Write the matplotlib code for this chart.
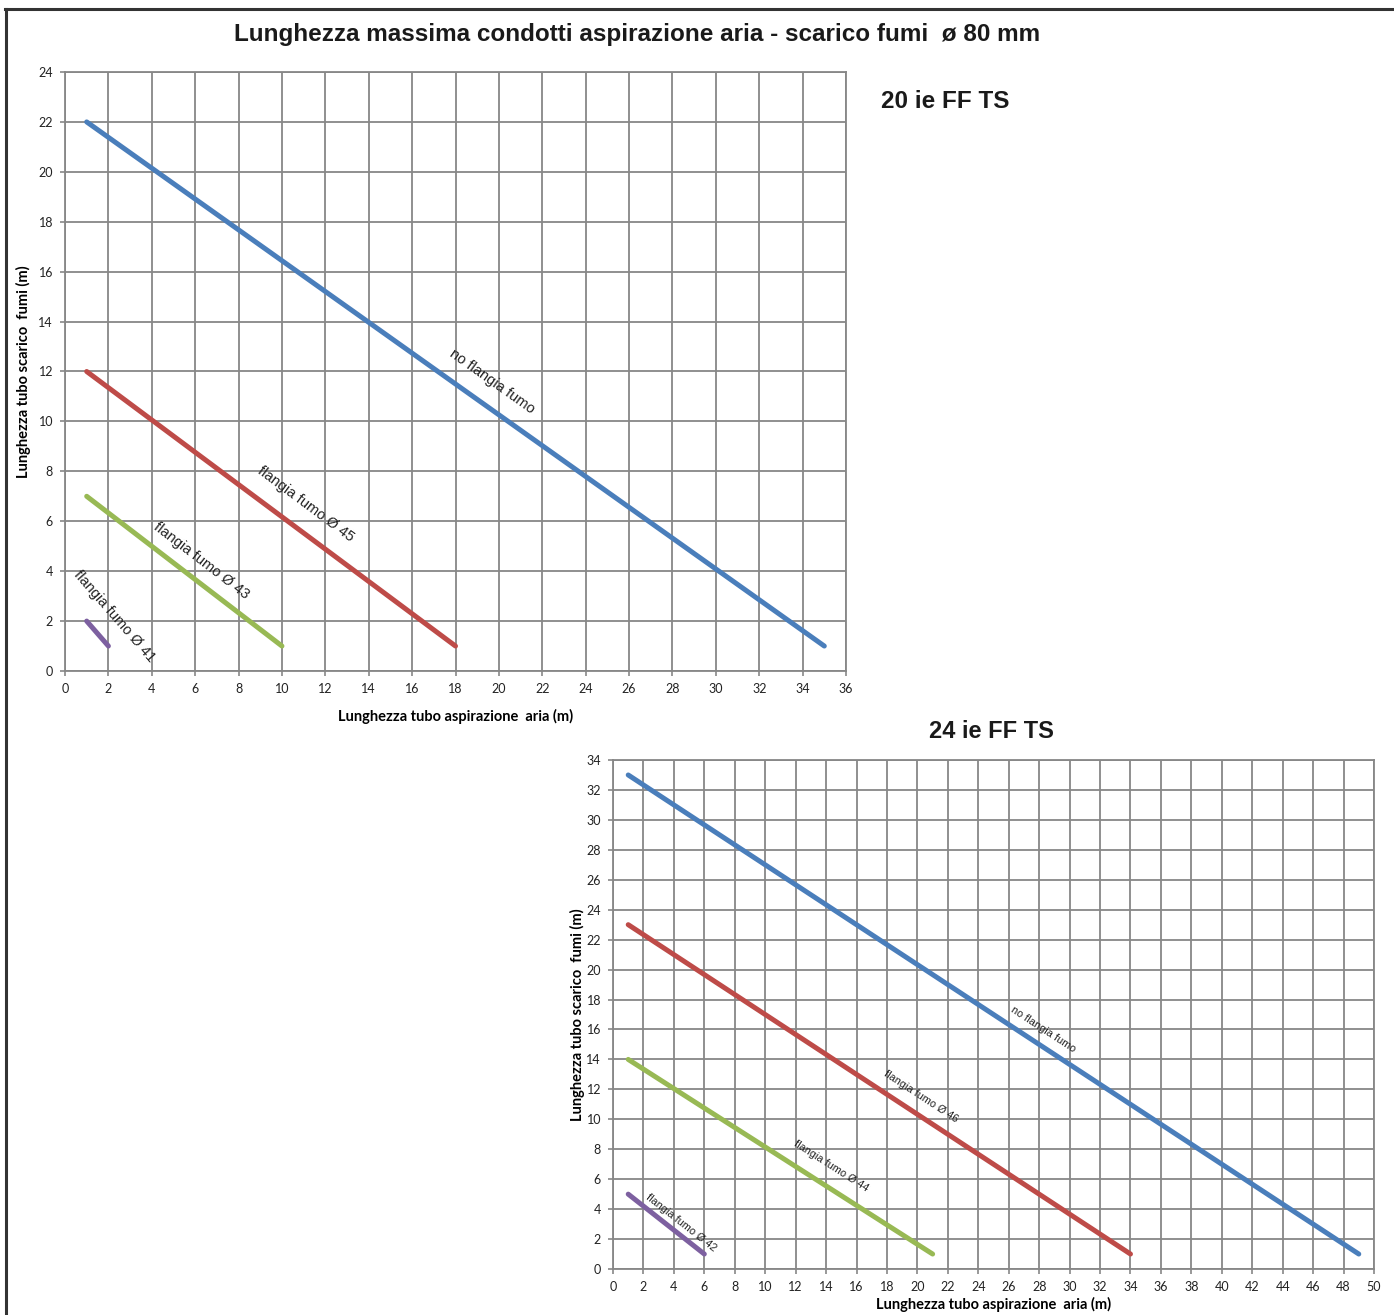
import numpy as np
import matplotlib
matplotlib.use("Agg")
import matplotlib.pyplot as plt
from matplotlib.lines import Line2D

# ---- data ----
# 20 ie FF TS
top_series_names = ["no flangia fumo", "flangia fumo Ø 45", "flangia fumo Ø 43", "flangia fumo Ø 41"]
top_x = [[1, 35], [1, 18], [1, 10], [1, 2]]
top_y = [[22, 1], [12, 1], [7, 1], [2, 1]]
top_xticks = list(range(0, 37, 2))
top_yticks = list(range(0, 25, 2))

# 24 ie FF TS
bot_series_names = ["no flangia fumo", "flangia fumo Ø 46", "flangia fumo Ø 44", "flangia fumo Ø 42"]
bot_x = [[1, 49], [1, 34], [1, 21], [1, 6]]
bot_y = [[33, 1], [23, 1], [14, 1], [5, 1]]
bot_xticks = list(range(0, 51, 2))
bot_yticks = list(range(0, 35, 2))

title = "Lunghezza massima condotti aspirazione aria - scarico fumi  ø 80 mm"
top_title = "20 ie FF TS"
bot_title = "24 ie FF TS"
xlabel = "Lunghezza tubo aspirazione  aria (m)"
ylabel = "Lunghezza tubo scarico  fumi (m)"

# label anchor positions (data coords) - placement only
top_label_pos = [(19.7, 11.6), (11.1, 6.7), (6.3, 4.4), (2.3, 2.2)]
bot_label_pos = [(28.25, 16.0), (20.2, 11.5), (14.3, 6.9), (4.5, 3.1)]

colors = ["#4A7EBB", "#BE4B48", "#98B954", "#7D60A0"]
grid_col = "#878787"

W, H = 1394, 1315
fig = plt.figure(figsize=(W / 100, H / 100), dpi=100)
fig.patch.set_facecolor("white")


def px_axes(x0, x1, y0, y1):
    return fig.add_axes([x0 / W, 1 - y1 / H, (x1 - x0) / W, (y1 - y0) / H])


def style_axes(ax, xticks, yticks, xmax, ymax):
    ax.set_xlim(0, xmax)
    ax.set_ylim(0, ymax)
    ax.set_xticks(xticks)
    ax.set_yticks(yticks)
    ax.grid(True, color=grid_col, linewidth=1.3)
    ax.set_axisbelow(True)
    for s in ax.spines.values():
        s.set_color(grid_col)
        s.set_linewidth(1.3)
    ax.tick_params(axis="both", colors=grid_col, length=3.6, width=1.2,
                   labelcolor="#222222", labelsize=9, pad=5)
    for lab in ax.get_xticklabels() + ax.get_yticklabels():
        lab.set_family("Lato")


def draw(ax, xs, ys, names, pos, fs):
    for xv, yv, c in zip(xs, ys, colors):
        ax.plot(xv, yv, color=c, linewidth=3.6, solid_capstyle="round")
    fig.canvas.draw()
    for xv, yv, name, p in zip(xs, ys, names, pos):
        p0 = ax.transData.transform((xv[0], yv[0]))
        p1 = ax.transData.transform((xv[1], yv[1]))
        ang = np.degrees(np.arctan2(p1[1] - p0[1], p1[0] - p0[0]))
        ax.text(p[0], p[1], name, rotation=ang, rotation_mode="anchor",
                ha="center", va="center", fontsize=fs,
                family="Liberation Sans", color="#222222")


# top chart
ax1 = px_axes(65, 846, 72, 671)
style_axes(ax1, top_xticks, top_yticks, 36, 24)
draw(ax1, top_x, top_y, top_series_names, top_label_pos, 10.5)
ax1.set_xlabel(xlabel, fontsize=10.5, fontweight="bold", family="Lato", labelpad=10)
ax1.set_ylabel(ylabel, fontsize=10.5, fontweight="bold", family="Lato", labelpad=5)

# bottom chart
ax2 = px_axes(613, 1374, 760, 1269)
style_axes(ax2, bot_xticks, bot_yticks, 50, 34)
draw(ax2, bot_x, bot_y, bot_series_names, bot_label_pos, 7.8)
ax2.set_xlabel(xlabel, fontsize=10.5, fontweight="bold", family="Lato", labelpad=3)
ax2.set_ylabel(ylabel, fontsize=10.5, fontweight="bold", family="Lato", labelpad=1)

# titles
fig.text(637 / W, 1 - 34 / H, title, ha="center", va="center",
         fontsize=17.5, fontweight="bold", family="Liberation Sans", color="#1a1a1a")
fig.text(881 / W, 1 - 101 / H, top_title, ha="left", va="center",
         fontsize=17.5, fontweight="bold", family="Liberation Sans", color="#1a1a1a")
fig.text(991 / W, 1 - 731 / H, bot_title, ha="center", va="center",
         fontsize=17, fontweight="bold", family="Liberation Sans", color="#1a1a1a")

# frame lines (top and left)
fig.add_artist(Line2D([5 / W, 1393 / W], [1 - 9 / H, 1 - 9 / H], color="#333333",
                      linewidth=2.2, transform=fig.transFigure))
fig.add_artist(Line2D([6 / W, 6 / W], [1 - 9 / H, 0], color="#333333",
                      linewidth=2.2, transform=fig.transFigure))

fig.savefig("out.png", dpi=100, facecolor="white")
